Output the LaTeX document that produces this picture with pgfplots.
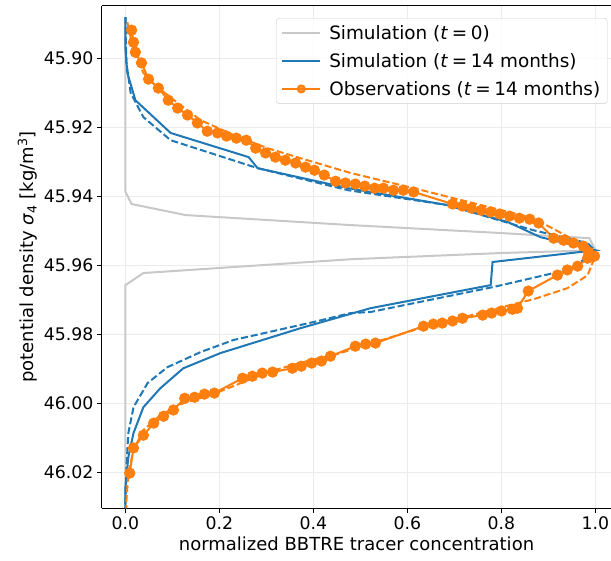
\documentclass[border=0pt]{standalone}
\usepackage{fontspec}
\setmainfont{DejaVu Sans}
\usepackage{pgfplots}
\pgfplotsset{compat=1.18}
\definecolor{tabblue}{HTML}{1F77B4}
\definecolor{taborange}{HTML}{FF7F0E}
\definecolor{simgray}{RGB}{200,200,200}
\definecolor{gridgray}{RGB}{235,235,235}
\definecolor{legframe}{RGB}{204,204,204}

\begin{document}
\begin{tikzpicture}
\useasboundingbox (-102pt,-53pt) rectangle (509pt,508pt);
\begin{axis}[
  at={(0pt,0pt)}, anchor=south west,
  scale only axis, width=509pt, height=502pt,
  xmin=-0.05, xmax=1.033,
  ymin=45.8849, ymax=46.0304, y dir=reverse,
  axis x line*=box, axis y line*=left,
  axis line style={line width=1pt, black},
  xtick={0,0.2,0.4,0.6,0.8,1.0},
  ytick={45.90,45.92,45.94,45.96,45.98,46.00,46.02},
  xtick pos=bottom, ytick pos=left,
  tick align=outside, major tick length=5pt,
  tick style={line width=1pt, black},
  scaled x ticks=false, scaled y ticks=false,
  xticklabel style={/pgf/number format/.cd, fixed, fixed zerofill, precision=1, assume math mode=true},
  yticklabel style={/pgf/number format/.cd, fixed, fixed zerofill, precision=2, assume math mode=true},
  ticklabel style={font=\fontsize{17.3}{20}\selectfont},
  grid=major, grid style={line width=1pt, gridgray},
  xlabel={normalized BBTRE tracer concentration},
  ylabel={potential density \textit{σ}\textsubscript{4} [kg/m\textsuperscript{3}]},
  label style={font=\fontsize{18}{21}\selectfont},
  legend style={at={(axis description cs:0.993,0.976)}, anchor=north east,
    draw=legframe, rounded corners=3pt, fill=white, fill opacity=0.8, text opacity=1,
    font=\fontsize{18.4}{21}\selectfont, row sep=8.5pt, column sep=6pt,
    inner xsep=5pt, inner ysep=5pt,
    cells={anchor=west}},
  legend cell align=left,
]
% simulation, t = 0
\addplot[simgray, line width=2pt,
  legend image code/.code={\draw[simgray, line width=2pt] (0pt,0pt) -- (38pt,0pt);}]
coordinates {
(0,45.8881) (0,45.9388) (0.013,45.9423) (0.128,45.9455) (0.479,45.9484) (0.798,45.9507)
(0.987,45.9522) (1.0,45.9557) (0.798,45.9565) (0.479,45.9583) (0.038,45.9623) (0,45.9658)
(0,46.0304)
};
\addlegendentry{Simulation (\textit{t}\hspace{0.2em}=\hspace{0.2em}0)}
% simulation, t = 14 months
\addplot[tabblue, line width=2pt,
  legend image code/.code={\draw[tabblue, line width=2pt] (0pt,0pt) -- (38pt,0pt);}]
coordinates {
(0,45.8881) (0,45.8977) (0.004,45.9043) (0.021,45.9122) (0.096,45.9217) (0.262,45.9287)
(0.281,45.9319) (0.474,45.9377) (0.685,45.9426) (0.813,45.9475) (0.883,45.9519)
(0.911,45.9528) (1.0,45.9557) (0.781,45.9591) (0.777,45.9658) (0.521,45.9725)
(0.372,45.9783) (0.202,45.9855) (0.123,45.9899) (0.074,45.9957) (0.038,46.0012)
(0.017,46.0087) (0.006,46.0157) (0,46.0243) (0,46.0304)
};
\addlegendentry{Simulation (\textit{t}\hspace{0.2em}=\hspace{0.2em}14 months)}
% observations, t = 14 months
\addplot[taborange, line width=2pt, mark=*, mark size=4.6pt,
  legend image code/.code={\draw[taborange, line width=2pt] (0pt,0pt) -- (38pt,0pt);
    \fill[taborange] (19pt,0pt) circle (3.5pt);}]
coordinates {
(0.013,45.8919) (0.017,45.8954) (0.021,45.8983) (0.034,45.9014) (0.049,45.9061)
(0.070,45.9087) (0.091,45.9122) (0.111,45.9145) (0.132,45.9165) (0.153,45.9188)
(0.174,45.9212) (0.196,45.9217) (0.215,45.9226) (0.236,45.9232) (0.257,45.9238)
(0.277,45.9261) (0.298,45.9275) (0.319,45.9287) (0.340,45.9296) (0.362,45.9304)
(0.383,45.9316) (0.402,45.9325) (0.423,45.9339) (0.447,45.9357) (0.468,45.9362)
(0.489,45.9365) (0.509,45.9371) (0.530,45.9377) (0.549,45.9377) (0.570,45.9383)
(0.591,45.9383) (0.613,45.9388) (0.696,45.9423) (0.717,45.9429) (0.736,45.9435)
(0.757,45.9441) (0.777,45.9446) (0.796,45.9452) (0.817,45.9458) (0.838,45.9464)
(0.860,45.9467) (0.879,45.9478) (0.911,45.9522) (0.932,45.9528) (0.953,45.9536)
(0.974,45.9545) (0.985,45.9562) (0.998,45.9574)
(0.983,45.9580) (0.962,45.9603) (0.940,45.9614) (0.919,45.9629) (0.857,45.9675)
(0.834,45.9725) (0.823,45.9728) (0.800,45.9733) (0.779,45.9739) (0.760,45.9745)
(0.717,45.9754) (0.696,45.9762) (0.674,45.9768) (0.655,45.9771) (0.634,45.9777)
(0.532,45.9826) (0.511,45.9829) (0.489,45.9835) (0.436,45.9864) (0.417,45.9878)
(0.396,45.9884) (0.374,45.9893) (0.355,45.9899) (0.313,45.9910) (0.291,45.9913)
(0.270,45.9922) (0.249,45.9928) (0.189,45.9971) (0.168,45.9974) (0.147,45.9983)
(0.126,45.9986) (0.102,46.0020) (0.081,46.0038) (0.060,46.0058) (0.038,46.0093)
(0.017,46.0130) (0.009,46.0203)
};
\addlegendentry{Observations (\textit{t}\hspace{0.2em}=\hspace{0.2em}14 months)}
% fitted profiles (dashed)
\addplot[tabblue, line width=2pt, dash pattern=on 7pt off 3pt, forget plot]
coordinates {
(0,45.8881) (0.002,45.9014) (0.011,45.9101) (0.038,45.9171) (0.096,45.9238)
(0.281,45.9319) (0.474,45.9383) (0.685,45.9426) (0.868,45.9499) (0.983,45.9536)
(0.998,45.9557) (0.994,45.9565) (0.953,45.9606) (0.940,45.9614) (0.781,45.9664)
(0.521,45.9736) (0.479,45.9739) (0.400,45.9765) (0.230,45.9817) (0.160,45.9852)
(0.089,45.9896) (0.047,45.9942) (0.017,46.0012) (0.006,46.0087) (0.002,46.0186)
(0,46.0281) (0,46.0304)
};
\addplot[taborange, line width=2pt, dash pattern=on 7pt off 3pt, forget plot]
coordinates {
(0.004,45.8896) (0.017,45.8977) (0.038,45.9043) (0.068,45.9084) (0.111,45.9130)
(0.160,45.9180) (0.230,45.9223) (0.302,45.9261) (0.372,45.9290) (0.479,45.9333)
(0.613,45.9377) (0.868,45.9464) (0.983,45.9548) (0.996,45.9571) (0.996,45.9586)
(0.983,45.9630) (0.940,45.9667) (0.868,45.9699) (0.826,45.9713) (0.728,45.9748)
(0.655,45.9771) (0.532,45.9823) (0.443,45.9861) (0.400,45.9873) (0.302,45.9910)
(0.251,45.9939) (0.181,45.9977) (0.123,46.0000) (0.074,46.0035) (0.038,46.0078)
(0.017,46.0136) (0.006,46.0203) (0.002,46.0281) (0.002,46.0304)
};
\end{axis}
\end{tikzpicture}
\end{document}
